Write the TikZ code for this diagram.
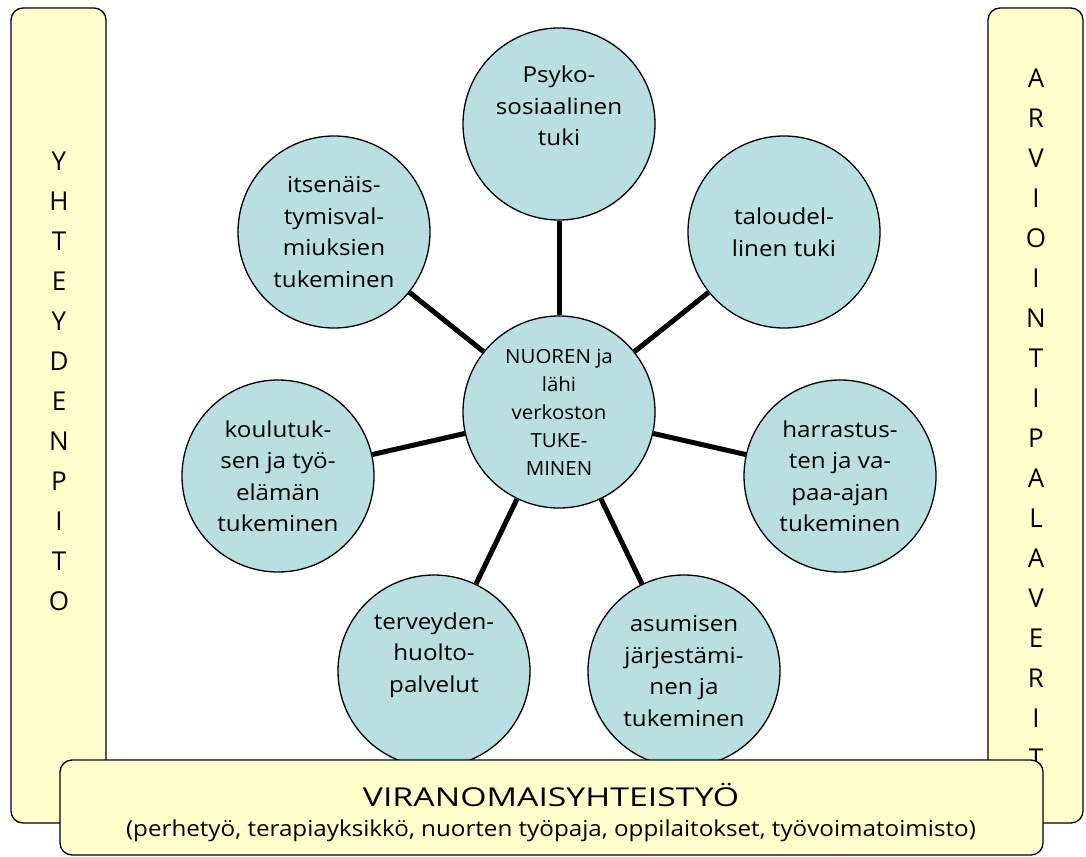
\documentclass[tikz,border=0pt]{standalone}
\usepackage{fontspec}
\setmainfont{Open Sans}
\begin{document}
\begin{tikzpicture}[x=1pt,y=-1pt,
  panel/.style={draw=black, line width=1.3pt, fill=panelyellow, rounded corners=12pt},
  bubblefont/.style={font=\fontsize{22}{31.5}\selectfont\addfontfeatures{FakeStretch=1.1}},
  bubble/.style={circle, draw=black, line width=1.3pt, fill=bubbleblue, minimum size=192pt, inner sep=0pt, align=center, bubblefont},
  spoke/.style={line width=5pt, black}]
\definecolor{panelyellow}{HTML}{FFFFCC}
\definecolor{bubbleblue}{HTML}{BADFE3}
\useasboundingbox (0,0) rectangle (1086,856);
% side panels
\draw[panel] (11,8) rectangle (106,823);
\draw[panel] (988,8) rectangle (1083,823);
\node[align=center, font=\fontsize{26}{40}\selectfont] (lefttext) at (59,381)
  {Y\\H\\T\\E\\Y\\D\\E\\N\\P\\I\\T\\O};
\node[align=center, font=\fontsize{26}{40}\selectfont] (righttext) at (1036,418)
  {A\\R\\V\\I\\O\\I\\N\\T\\I\\P\\A\\L\\A\\V\\E\\R\\I\\T};
% bubbles
\node[bubble, font=\fontsize{19.5}{28}\selectfont\addfontfeatures{FakeStretch=1.05}] (center) at (559,412) {NUOREN ja\\lähi\\verkoston\\TUKE-\\MINEN};
\node[bubble] (psyko) at (559,124) {};
\node[align=center, bubblefont] (psykotext) at (559,106) {Psyko-\\sosiaalinen\\tuki};
\node[bubble] (talous) at (784,232) {taloudel-\\linen tuki};
\node[bubble] (harrastus) at (840,476) {harrastus-\\ten ja va-\\paa-ajan\\tukeminen};
\node[bubble] (asuminen) at (684,671) {asumisen\\järjestämi-\\nen ja\\tukeminen};
\node[bubble] (terveys) at (434,671) {};
\node[align=center, bubblefont] (terveystext) at (434,655) {terveyden-\\huolto-\\palvelut};
\node[bubble] (koulutus) at (278,476) {koulutuk-\\sen ja työ-\\elämän\\tukeminen};
\node[bubble] (itsenaistyminen) at (334,232) {itsenäis-\\tymisval-\\miuksien\\tukeminen};
\foreach \n in {psyko,talous,harrastus,asuminen,terveys,koulutus,itsenaistyminen}
  \draw[spoke] (center) -- (\n);
% bottom panel
\draw[panel] (60,760) rectangle (1043,855);
\node[font=\fontsize{26}{30}\selectfont\addfontfeatures{FakeStretch=1.3}] (bottomtitle) at (551,795) {VIRANOMAISYHTEISTYÖ};
\node[font=\fontsize{22}{26}\selectfont\addfontfeatures{FakeStretch=1.1}] (bottomsub) at (551,831) {(perhetyö, terapiayksikkö, nuorten työpaja, oppilaitokset, työvoimatoimisto)};
\end{tikzpicture}
\end{document}
